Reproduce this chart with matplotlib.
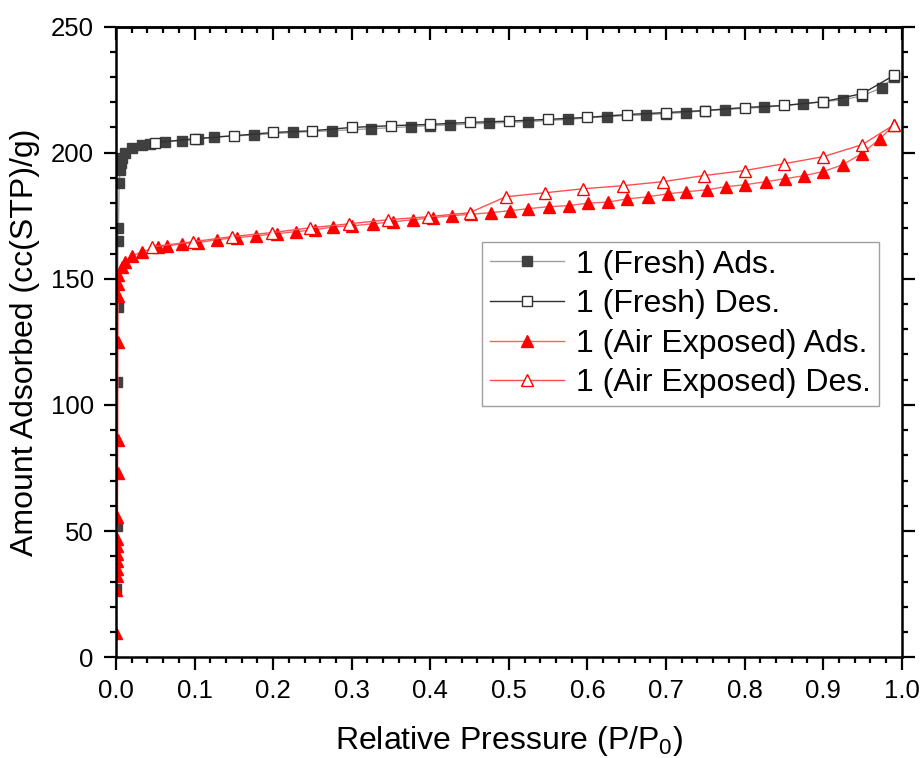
import matplotlib.pyplot as plt
from matplotlib.ticker import MultipleLocator, NullFormatter

plt.rcParams['font.family'] = ['Liberation Sans', 'DejaVu Sans']
plt.rcParams['mathtext.fontset'] = 'custom'
plt.rcParams['mathtext.rm'] = 'Liberation Sans'
plt.rcParams['mathtext.it'] = 'Liberation Sans'

# Data
fresh_ads_p = [0.0005, 0.001, 0.0015, 0.002, 0.0025, 0.003, 0.004, 0.005, 0.006, 0.008,
               0.011, 0.02, 0.033, 0.043, 0.062, 0.084, 0.104, 0.125, 0.175, 0.225,
               0.275, 0.325, 0.375, 0.4, 0.425, 0.475, 0.525, 0.575, 0.625, 0.675,
               0.7, 0.725, 0.75, 0.775, 0.825, 0.875, 0.9, 0.925, 0.95, 0.975, 0.99]
fresh_ads_v = [27, 52, 109, 139, 165, 170, 188, 193, 196, 198,
               200, 202, 203, 203.6, 204.4, 204.8, 205.3, 206.3, 207, 208,
               208.7, 209.5, 210.3, 210.7, 211, 211.7, 212.3, 213.2, 214.3, 215,
               215.5, 215.9, 216.7, 217.1, 218, 219.4, 220.2, 221, 222.5, 225.8, 230]

fresh_des_p = [0.99, 0.95, 0.9, 0.85, 0.8, 0.75, 0.7, 0.65, 0.6, 0.55,
               0.5, 0.45, 0.4, 0.35, 0.3, 0.25, 0.2, 0.15, 0.1, 0.05]
fresh_des_v = [230.6, 223.4, 220.2, 218.7, 217.9, 216.7, 215.9, 215.1, 214, 213.2,
               212.5, 212, 211.2, 210.7, 210, 208.7, 208, 206.7, 205.5, 204]

air_ads_p = [0.0003, 0.0005, 0.0007, 0.0009, 0.001, 0.0012, 0.0014, 0.0016, 0.0018, 0.002,
             0.0022, 0.0024, 0.0026, 0.0028, 0.003, 0.008, 0.011, 0.02, 0.033, 0.053,
             0.065, 0.084, 0.104, 0.128, 0.154, 0.178, 0.205, 0.229, 0.253, 0.276,
             0.3, 0.327, 0.352, 0.378, 0.403, 0.427, 0.452, 0.477, 0.501, 0.525,
             0.551, 0.576, 0.601, 0.626, 0.651, 0.677, 0.702, 0.726, 0.752, 0.776,
             0.801, 0.827, 0.852, 0.876, 0.9, 0.925, 0.949, 0.973, 0.99]
air_ads_v = [9.5, 26.6, 32, 35, 38, 41, 44, 47, 55.6, 73,
             86, 125, 143, 148, 151.6, 154.8, 156.7, 159, 160.7, 162.7,
             163, 163.9, 164.3, 165.5, 166.3, 167, 167.9, 168.7, 169.4, 170.6,
             171, 171.8, 172.6, 173.4, 174.2, 175, 175.6, 176.2, 177, 177.8,
             178.6, 179, 180, 180.4, 181.7, 182.5, 183.7, 184.5, 185.3, 186.5,
             187.3, 188.5, 189.7, 190.9, 192.5, 195.2, 199.6, 205.6, 211]

air_des_p = [0.99, 0.95, 0.9, 0.85, 0.8, 0.748, 0.696, 0.645, 0.595, 0.546,
             0.496, 0.45, 0.397, 0.346, 0.297, 0.247, 0.198, 0.147, 0.098, 0.046]
air_des_v = [211, 203.2, 198.4, 195.6, 192.9, 190.9, 188.5, 186.9, 185.7, 184.1,
             182.5, 176.2, 174.6, 173.4, 171.8, 170.2, 168.3, 166.7, 164.7, 162.7]

fig = plt.figure(figsize=(9.21, 7.58), dpi=100)
ax = fig.add_axes([0.126, 0.133, 0.853, 0.832])

ax.plot(fresh_ads_p, fresh_ads_v, color='#a0a0a0', lw=1, marker='s', ms=6.5,
        mfc='#404040', mec='#404040', label='1 (Fresh) Ads.')
ax.plot(fresh_des_p, fresh_des_v, color='#303030', lw=1, marker='s', ms=7,
        mfc='white', mec='#303030', mew=1, label='1 (Fresh) Des.')
ax.plot(air_ads_p, air_ads_v, color='#ff6060', lw=1, marker='^', ms=8,
        mfc='red', mec='red', label='1 (Air Exposed) Ads.')
ax.plot(air_des_p, air_des_v, color='#ff5050', lw=1, marker='^', ms=8.5,
        mfc='white', mec='red', mew=1, label='1 (Air Exposed) Des.')

ax.set_xlim(0, 1.0)
ax.set_ylim(0, 250)
ax.xaxis.set_major_locator(MultipleLocator(0.1))
ax.xaxis.set_minor_locator(MultipleLocator(0.02))
ax.yaxis.set_major_locator(MultipleLocator(50))
ax.yaxis.set_minor_locator(MultipleLocator(10))
ax.xaxis.set_major_formatter(plt.FormatStrFormatter('%.1f'))

for s in ax.spines.values():
    s.set_linewidth(1.8)
ax.tick_params(which='both', direction='out', width=1.6, right=True, top=False,
               labelsize=18.5)
ax.tick_params(which='major', length=9)
ax.tick_params(which='minor', length=4.5)
ax.tick_params(axis='x', pad=7)
ax.tick_params(axis='y', pad=7)

# top axis: inward ticks, no labels
top = ax.secondary_xaxis('top')
top.xaxis.set_major_locator(MultipleLocator(0.1))
top.xaxis.set_minor_locator(MultipleLocator(0.02))
top.xaxis.set_major_formatter(NullFormatter())
top.tick_params(which='both', direction='in', width=1.6)
top.tick_params(which='major', length=9)
top.tick_params(which='minor', length=4.5)
top.spines['top'].set_linewidth(1.8)

ax.set_xlabel('Relative Pressure (P/P$_0$)', fontsize=23, labelpad=15)
ax.set_ylabel('Amount Adsorbed (cc(STP)/g)', fontsize=23, labelpad=8)

leg = ax.legend(loc='upper left', bbox_to_anchor=(0.466, 0.659), fontsize=23,
                frameon=True, fancybox=False, edgecolor='#888888',
                handlelength=2.3, labelspacing=0.3, borderpad=0.25,
                handletextpad=0.4, borderaxespad=0)
leg.get_frame().set_linewidth(1)

fig.savefig('out.png', dpi=100)
